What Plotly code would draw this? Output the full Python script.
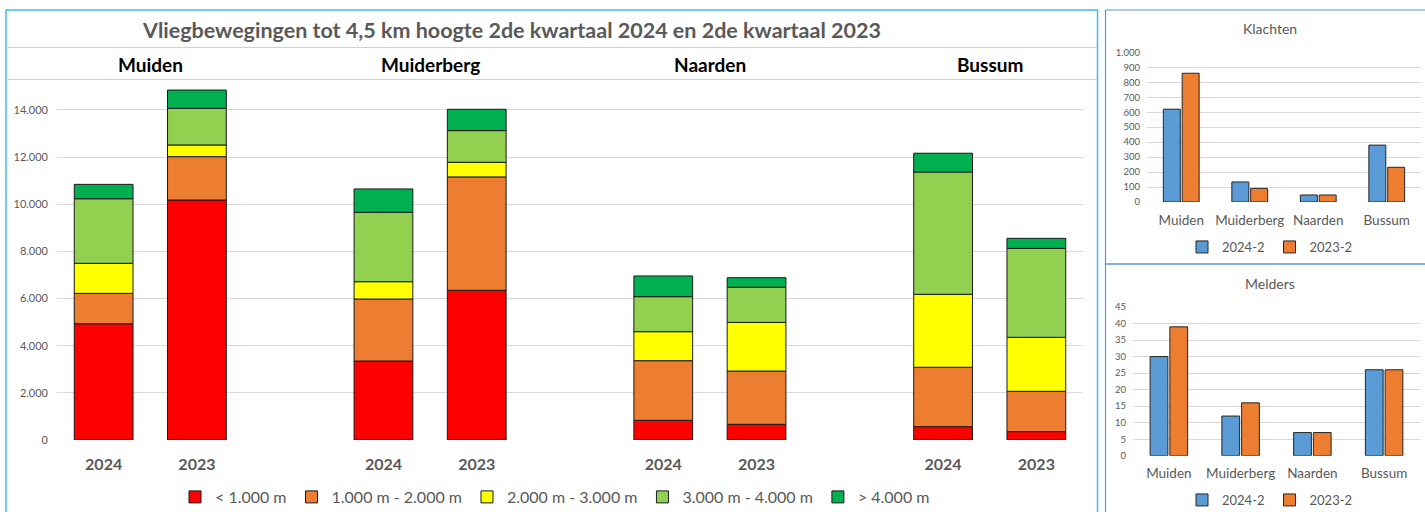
import plotly.graph_objects as go

W, H = 1425, 512

# ---------------- data ----------------
towns = ["Muiden", "Muiderberg", "Naarden", "Bussum"]
years = ["2024", "2023"]
bands = ["< 1.000 m", "1.000 m - 2.000 m", "2.000 m - 3.000 m", "3.000 m - 4.000 m", "> 4.000 m"]
band_colors = ["#FF0000", "#ED7D31", "#FFFF00", "#92D050", "#00B050"]

# order per town: 2024, 2023
lt_1000 = [4930, 10180, 3350, 6350, 835, 665, 565, 355]
m1000_2000 = [1290, 1840, 2630, 4810, 2530, 2260, 2520, 1710]
m2000_3000 = [1275, 495, 735, 620, 1230, 2065, 3095, 2290]
m3000_4000 = [2740, 1555, 2945, 1345, 1485, 1490, 5190, 3775]
gt_4000 = [610, 775, 990, 905, 880, 405, 795, 425]
band_values = [lt_1000, m1000_2000, m2000_3000, m3000_4000, gt_4000]

side_series = ["2024-2", "2023-2"]
side_colors = ["#5B9BD5", "#ED7D31"]
klachten_2024 = [620, 134, 47, 380]
klachten_2023 = [860, 91, 47, 232]
melders_2024 = [30, 12, 7, 26]
melders_2023 = [39, 16, 7, 26]

main_title = "Vliegbewegingen tot 4,5 km hoogte 2de kwartaal 2024 en 2de kwartaal 2023"

# ---------------- helpers ----------------
def px(x):
    return x / W

def py(y):
    return 1 - y / H

FONT = "Lato"
GRAY = "#595959"
GRID = "#D9D9D9"

# positions: each town takes 3 slots (2 bars + a gap)
positions = []
labels = []
for ti, t in enumerate(towns):
    for yi, yr in enumerate(years):
        positions.append(ti * 3 + yi)
        labels.append(yr)

fig = go.Figure()

# stacked bars (manual stacking via base so the side charts can be grouped)
running = [0] * len(positions)
for b, col, vals in zip(bands, band_colors, band_values):
    fig.add_trace(go.Bar(
        x=positions, y=vals, base=list(running), name=b,
        marker=dict(color=col, line=dict(color="#1a1a1a", width=1)),
        width=0.63, offsetgroup="main", xaxis="x", yaxis="y", legend="legend",
    ))
    running = [r + v for r, v in zip(running, vals)]

for name, col, vals in zip(side_series, side_colors, [klachten_2024, klachten_2023]):
    fig.add_trace(go.Bar(
        x=towns, y=vals, name=name, marker=dict(color=col, line=dict(color="#262626", width=1)),
        xaxis="x2", yaxis="y2", legend="legend2",
    ))
for name, col, vals in zip(side_series, side_colors, [melders_2024, melders_2023]):
    fig.add_trace(go.Bar(
        x=towns, y=vals, name=name, marker=dict(color=col, line=dict(color="#262626", width=1)),
        xaxis="x3", yaxis="y3", legend="legend3",
    ))

axis_common = dict(showline=False, zeroline=False, ticks="", fixedrange=True, automargin=False)

fig.update_layout(
    width=W, height=H,
    margin=dict(l=0, r=0, t=0, b=0, autoexpand=False),
    paper_bgcolor="white", plot_bgcolor="white",
    separators=",.",
    barmode="group",
    font=dict(family=FONT, color=GRAY),
    xaxis=dict(domain=[px(57), px(1083)], range=[-0.5, 10.5], tickvals=positions, ticktext=labels,
               tickfont=dict(size=16, color=GRAY, family=FONT, weight="bold"), showgrid=False,
               ticklabelstandoff=13, anchor="y", **axis_common),
    yaxis=dict(domain=[py(440), py(86.4)], range=[0, 15000], dtick=2000, tickformat=",d",
               gridcolor=GRID, gridwidth=1, tickfont=dict(size=11, color=GRAY), anchor="x",
               ticklabelstandoff=8, **axis_common),
    xaxis2=dict(domain=[px(1147), px(1421)], tickfont=dict(size=13.5, color=GRAY), showgrid=False,
                ticklabelstandoff=8, anchor="y2", **axis_common),
    yaxis2=dict(domain=[py(202), py(52.3)], range=[0, 1000], dtick=100, tickformat=",d",
                gridcolor=GRID, tickfont=dict(size=9.5, color=GRAY), anchor="x2",
                ticklabelstandoff=6, **axis_common),
    xaxis3=dict(domain=[px(1133), px(1420)], tickfont=dict(size=13.5, color=GRAY), showgrid=False,
                ticklabelstandoff=8, anchor="y3", **axis_common),
    yaxis3=dict(domain=[py(455.7), py(307)], range=[0, 45], dtick=5,
                gridcolor=GRID, tickfont=dict(size=9.5, color=GRAY), anchor="x3",
                ticklabelstandoff=6, **axis_common),
    legend=dict(orientation="h", x=px(555), xanchor="center", y=py(497), yanchor="middle",
                font=dict(size=16, color=GRAY), bgcolor="rgba(0,0,0,0)", traceorder="normal",
                itemwidth=30),
    legend2=dict(orientation="h", x=px(1270), xanchor="center", y=py(247), yanchor="middle",
                 font=dict(size=13, color=GRAY), bgcolor="rgba(0,0,0,0)", itemwidth=30,
                 traceorder="normal"),
    legend3=dict(orientation="h", x=px(1270), xanchor="center", y=py(500), yanchor="middle",
                 font=dict(size=13, color=GRAY), bgcolor="rgba(0,0,0,0)", itemwidth=30,
                 traceorder="normal"),
    bargap=0.45, bargroupgap=0.1,
    showlegend=True,
)

shapes = []
# main panel border
shapes.append(dict(type="rect", xref="paper", yref="paper", x0=px(6), x1=px(1097.5), y0=py(530), y1=py(10),
                   line=dict(color="#3EBBF2", width=1.5), layer="above"))
# header divider lines
for yline in [47.5, 79.5]:
    shapes.append(dict(type="line", xref="paper", yref="paper", x0=px(6.5), x1=px(1097), y0=py(yline), y1=py(yline),
                       line=dict(color="#D0D0D0", width=1.2)))
# side panels borders
shapes.append(dict(type="rect", xref="paper", yref="paper", x0=px(1105.5), x1=px(1440), y0=py(264), y1=py(10),
                   line=dict(color="#5B9BD5", width=1.2)))
shapes.append(dict(type="rect", xref="paper", yref="paper", x0=px(1105.5), x1=px(1440), y0=py(530), y1=py(264),
                   line=dict(color="#5B9BD5", width=1.2)))
fig.update_layout(shapes=shapes)

annotations = [
    dict(text=main_title, xref="paper", yref="paper", x=px(511), y=py(30), xanchor="center", yanchor="middle",
         showarrow=False, font=dict(size=21.5, color=GRAY, family=FONT, weight="bold")),
    dict(text="Klachten", xref="paper", yref="paper", x=px(1270), y=py(28), xanchor="center", yanchor="middle",
         showarrow=False, font=dict(size=14, color=GRAY, family=FONT)),
    dict(text="Melders", xref="paper", yref="paper", x=px(1270), y=py(283), xanchor="center", yanchor="middle",
         showarrow=False, font=dict(size=14, color=GRAY, family=FONT)),
]
for ti, t in enumerate(towns):
    annotations.append(dict(text=t, xref="x", yref="paper", x=ti * 3 + 0.5, y=py(64), xanchor="center",
                            yanchor="middle", showarrow=False,
                            font=dict(size=19, color="#000000", family=FONT, weight="bold")))
fig.update_layout(annotations=annotations)

fig.write_html("out.html", config={"displayModeBar": False},
               post_script="document.body.style.margin='0';document.body.style.overflow='hidden';")
